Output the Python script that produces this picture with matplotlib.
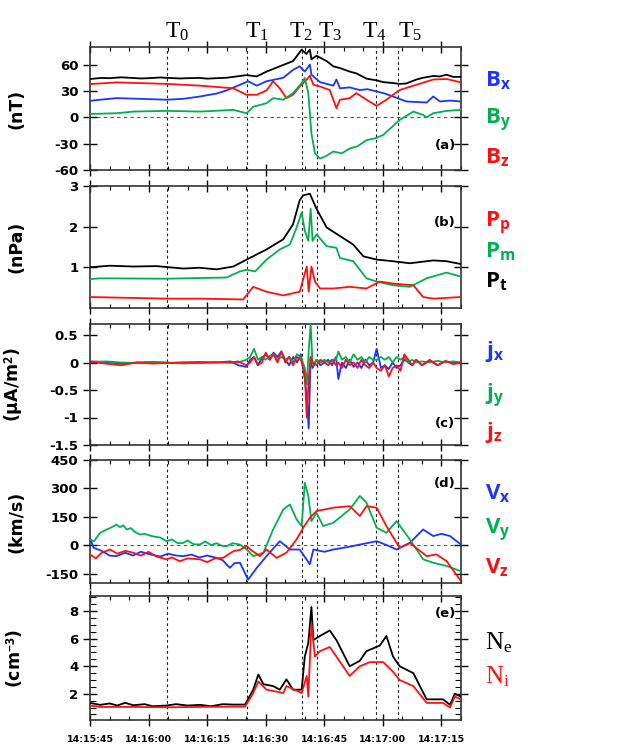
import matplotlib
matplotlib.use("Agg")
import matplotlib.pyplot as plt
from matplotlib.ticker import MultipleLocator, FixedLocator
from matplotlib.font_manager import FontProperties

plt.rcParams['mathtext.fontset'] = 'custom'
plt.rcParams['mathtext.rm'] = 'Liberation Serif'
plt.rcParams['mathtext.bf'] = 'Open Sans:bold'
plt.rcParams['mathtext.it'] = 'Liberation Serif'
plt.rcParams['axes.unicode_minus'] = False

# ---------------- data (time in seconds after 14:15:45) ----------------
event_times = [19.7, 40.1, 54.3, 58.2, 73.3, 78.8]
event_labels = ["0", "1", "2", "3", "4", "5"]

# panel (a) magnetic field, nT
t_bt = [0, 3, 5, 8, 10, 13, 15, 18, 20, 23, 25, 28, 30, 33, 35, 38.4, 40.1, 42.7, 45.2, 48.6, 52.0, 54.2, 55.4, 56.3,
        56.7, 58.0, 60.6, 62.3, 64.0, 66.5, 68.2, 70.8, 73.4, 75.1, 77.6, 79.3, 81.0, 83.6, 85.3, 87.9, 89.6,
        91.3, 93.0, 95.0]
b_t = [43.6, 44.8, 44.5, 45.5, 45, 44.2, 44.5, 45.3, 44.8, 44.2, 44.5, 44.8, 44, 44.6, 45, 47, 48, 46.5, 52, 58,
       64, 77, 72, 77, 66, 70, 64, 58, 56, 52, 50, 44, 42, 40, 39, 38, 38.5, 43, 45, 47, 46.5, 48.5, 46, 46]
t_bx = [0, 2.6, 6.8, 12.8, 19.6, 23.9, 28.2, 32.4, 35.0, 38.4, 40.5, 42.7, 45.2, 49.5, 52.0, 53.7, 55.0, 56.3,
        56.7, 58.9, 62.3, 63.1, 64.0, 66.5, 69.1, 71, 73.4, 75.5, 77.6, 81.0, 86.2, 87.9, 89.6, 92.2, 95.0]
b_x = [18.7, 20, 21.8, 21, 20, 21, 23.7, 27, 30.6, 37, 41, 36, 41, 45, 54, 58, 52, 60,
       48.5, 40, 36, 43, 33, 34, 31, 32, 29.4, 27, 23.7, 18, 16.8, 23.7, 18, 19, 18]
t_by = [0, 6.8, 11.1, 19.6, 28.2, 36.7, 40.1, 41.8, 45.2, 46.9, 49.5, 52.0, 54.2, 55.0, 55.9, 56.7, 57.6, 58.9,
        60.5, 62.3, 64.5, 66.5, 68.5, 70.8, 73, 75.1, 79.3, 82.8, 85.3, 86.2, 87.9, 91.3, 95.0]
b_y = [3.8, 4.6, 6.5, 7.3, 6.5, 8.4, 4.6, 12, 16, 21.8, 20, 27.5, 39, 44.7, 27.5, -18.3, -41, -47,
       -44, -39, -41, -35.5, -33, -26, -24, -20, -3, 6.5, 2.7, 0, 4.6, 7.3, 8.4]
t_bz = [0, 6.8, 19.6, 28.2, 36.7, 40.1, 42.7, 45.2, 46.9, 48.6, 50.3, 52.0, 53.7, 55.5, 56.3, 57.2, 58.9, 61.4,
        62.3, 63.1, 64.0, 66.5, 68.2, 70.8, 73.4, 75.9, 79.3, 83.6, 87.9, 91.3, 95.0]
b_z = [37.8, 39.7, 38, 36, 33, 25.6, 25.6, 30.6, 41, 33, 21.8, 25.6, 35, 43, 47.4, 37, 35, 31,
       20, 10.3, 20, 21.8, 27.5, 20, 13, 20, 31, 37, 43, 43.6, 39.7]

# panel (b) pressures, nPa
t_pt = [0, 5, 11.1, 17, 23.9, 28, 32.4, 36.7, 40.1, 45.2, 49.5, 52.0, 53.7, 54.6, 56.3, 58.0, 60.6, 64.0, 67.4,
        70.0, 73.4, 77.6, 81.9, 87.9, 91.3, 95.0]
p_t = [1.0, 1.04, 1.02, 1.03, 0.97, 0.99, 0.95, 1.02, 1.19, 1.44, 1.69, 2.06, 2.65, 2.77, 2.81, 2.44, 1.98,
       1.77, 1.56, 1.27, 1.19, 1.15, 1.1, 1.17, 1.15, 1.08]
t_pm = [0, 2.6, 19.6, 35.0, 38.4, 40.1, 42.3, 45.2, 48.6, 51.2, 52.9, 54.2, 55.0, 55.9, 56.5, 57.0, 58.0,
        60.6, 63.1, 64.0, 67.4, 69.1, 70.8, 73.4, 77.6, 81.9, 86.2, 91.3, 95.0]
p_m = [0.71, 0.73, 0.72, 0.75, 0.9, 0.94, 0.9, 1.19, 1.44, 1.56, 1.98, 2.35, 1.9, 1.65, 2.44, 1.65, 1.81,
       1.52, 1.48, 1.23, 1.15, 0.94, 0.73, 0.65, 0.56, 0.52, 0.73, 0.87, 0.77]
t_pp = [0, 19.6, 28.2, 39.2, 41.8, 45.2, 49.5, 53.7, 55.5, 56.0, 56.7, 57.6, 58.9, 62.3, 66.5, 70.8, 74.2,
        77.6, 82.8, 85.3, 87.9, 95.0]
p_p = [0.27, 0.23, 0.23, 0.21, 0.52, 0.4, 0.31, 0.4, 1.02, 0.4, 1.02, 0.65, 0.48, 0.48, 0.52, 0.48, 0.65,
       0.6, 0.56, 0.27, 0.23, 0.27]

# panel (c) current density, uA/m^2
t_j = [0, 4, 8, 12, 16, 20, 24, 28, 32, 36,
       38, 40,
       41, 42, 43, 44, 45, 46, 47, 48, 49, 50, 51, 52, 53, 54,
       55, 55.5, 56, 56.5, 57,
       58, 59, 60, 61, 62, 63,
       63.6,
       64.5, 65.5, 66.5, 67.5, 68.5, 69.5, 70.5, 71.5, 72.5,
       73.4,
       74.5, 75.5, 76.5, 77.5, 78.5, 79.5, 80.5, 81.5, 82.5, 83.5,
       85, 87, 89, 91, 93, 95]
j_x = [0.02, 0.01, -0.02, 0.0, 0.01, -0.01, 0.0, 0.01, 0.0, 0.02,
       -0.05, -0.08,
       0.05, 0.1, -0.05, 0.08, 0.15, 0.05, 0.18, 0.1, 0.2, 0.05, -0.05, 0.1, 0.0, 0.15,
       -0.3, -0.6, -1.2, 0.1, -0.1,
       0.05, -0.05, 0.0, 0.05, -0.05, 0.1,
       -0.3,
       0.0, -0.1, 0.05, -0.08, 0.0, -0.1, 0.05, -0.05, 0.0,
       0.25,
       -0.1, -0.05, -0.12, 0.0, -0.1, -0.05, 0.05, 0.0, -0.05, 0.05,
       -0.05, 0.03, -0.05, 0.02, 0.0, 0.0]
j_y = [0.0, 0.02, 0.0, -0.01, 0.01, 0.0, -0.02, 0.0, 0.01, 0.0,
       0.0, 0.05,
       0.1, 0.25, 0.05, 0.1, 0.05, 0.12, 0.15, 0.05, 0.1, 0.05, 0.1, 0.0, 0.15, 0.1,
       -0.1, -0.4, 0.2, 0.7, -0.05,
       0.05, 0.0, 0.05, 0.0, 0.05, 0.05,
       0.2,
       0.05, 0.1, 0.0, 0.15, 0.05, 0.1, 0.0, 0.1, 0.05,
       0.05,
       0.1, 0.05, 0.1, 0.0, 0.1, 0.05, 0.1, 0.0, 0.05, 0.0,
       0.02, 0.0, 0.03, 0.0, 0.02, 0.0]
j_z = [0.01, -0.02, -0.05, 0.0, -0.02, -0.01, 0.0, -0.01, 0.0, 0.0,
       0.02, -0.05,
       0.0, 0.1, -0.05, 0.0, 0.18, 0.05, 0.15, 0.0, 0.2, 0.0, 0.1, -0.05, 0.1, 0.05,
       -0.2, -1.0, -0.3, 0.1, 0.0,
       -0.05, 0.05, 0.0, -0.05, 0.05, -0.05,
       0.0,
       -0.1, 0.05, -0.05, 0.0, -0.1, 0.05, -0.05, -0.1, 0.0,
       -0.1,
       -0.15, -0.05, -0.25, -0.1, -0.05, -0.15, 0.15, 0.05, -0.05, 0.05,
       -0.05, 0.05, -0.05, 0.03, -0.03, 0.0]

# panel (d) velocity, km/s
t_vx = [0, 0.9, 3, 5, 6.8, 9, 11, 13, 15.4, 18, 20, 22, 23.9, 26, 28, 30, 32.4, 34, 35.8, 37, 38.4, 40.5,
        42.7, 45.2, 48.6, 51.2, 53.7, 56.3, 57.2, 60, 62.3, 66, 69.1, 73.4, 76, 78.5, 81.9, 85.3, 87.9,
        90, 92.2, 95.0]
v_x = [39, -14, -30, -55, -58, -40, -55, -35, -49, -60, -45, -55, -58, -50, -65, -55, -67, -80, -120, -95,
       -93, -182, -120, -58, 21, -23, -23, -101, -23, -35, -23, -10, 3, 21, 0, -23, 12, 83, 48, 60, 48, 3]
t_vy = [0, 1, 2.6, 4, 5.1, 6, 6.8, 7.7, 8.5, 9.4, 10.5, 11.5, 12.8, 14, 15.4, 16.5, 18, 19.6, 21, 22.5,
        23.9, 25, 26.5, 28.2, 29.5, 31, 32.4, 34, 35.0, 36.5, 38.4, 40, 41.8, 44.4, 46.9, 49.5, 51.2,
        52.9, 54.2, 55.0, 55.9, 56.7, 58.0, 59.7, 62.3, 66.5, 69.1, 70.8, 73.4, 75.9, 78.5, 81.9, 85.3,
        87.9, 91.3, 95.0]
v_y = [30, 20, 65, 80, 90, 100, 109, 95, 105, 83, 90, 70, 56, 60, 50, 45, 40, 21, 30, 10,
       12, 25, 5, 3.5, 20, 0, 10, -5, -5, 10, 3, -20, -58, -40, 83, 189, 215,
       136, 101, 330, 260, 127, 171, 101, 118, 189, 260, 224, 92, 65, 127, 30, -75,
       -93, -110, -138]
t_vz = [0, 1.5, 3, 5.1, 7, 9, 11.1, 13, 15, 17, 19.6, 21, 23, 25, 28.2, 30, 32, 34.1, 36.7, 38.4, 40.1,
        41.5, 43.5, 45.2, 47.8, 50.3, 52.9, 54.6, 56.3, 58.0, 62.3, 66.5, 69.1, 70.8, 73.4, 75.9, 78.5,
        79.3, 81.9, 86.2, 88.7, 91.3, 95.0]
v_z = [-49, -70, -40, -23, -45, -30, -40, -55, -35, -60, -75, -65, -85, -70, -75, -90, -70, -67, -32,
       -25, -5, -30, -58, -23, -67, -40, 30, 92, 145, 180, 198, 206, 154, 206, 198, 101, 12,
       -14, 12, -58, -49, -84, -190]

# panel (e) density, cm^-3
t_ne = [0, 2.6, 5, 7, 9, 11.1, 14, 16, 19.6, 22, 25, 28.2, 31, 34, 36.7, 39.7, 41.8, 43.1, 44.4, 46.9, 48.6,
        50.3, 52.0, 54.2, 55.0, 55.9, 56.7, 57.2, 58.9, 61.4, 63.1, 66.5, 69.1, 70.8, 74.2, 75.9, 77.6,
        79.3, 82.8, 86.2, 90.4, 92.2, 93.4, 95.0]
n_e = [1.34, 1.2, 1.3, 1.15, 1.35, 1.17, 1.25, 1.1, 1.15, 1.25, 1.15, 1.2, 1.1, 1.25, 1.22, 1.22, 2.3,
       3.4, 2.7, 2.56, 2.3, 3.05, 2.3, 2.3, 4.7, 5.7, 8.3, 5.9, 6.2, 6.6, 5.9, 4.0, 4.4, 5.1, 5.5,
       6.2, 4.7, 4.0, 3.5, 1.6, 1.6, 1.2, 2.0, 1.8]
t_ni = [0, 2.6, 11.1, 19.6, 28.2, 36.7, 39.7, 41.8, 43.1, 45.2, 49.5, 50.3, 54.2, 55.5, 55.9, 56.7, 57.6,
        58.9, 61.4, 63.1, 66.5, 69.1, 71.7, 75.1, 77.6, 79.3, 82.8, 86.2, 90.4, 92.2, 93.4, 95.0]
n_i = [1.15, 1.05, 1.05, 1.02, 1.05, 1.07, 1.07, 2.06, 2.9, 2.3, 2.06, 2.56, 2.06, 3.3, 1.8, 7.1, 4.7,
       5.1, 5.4, 4.7, 3.3, 4.0, 4.3, 4.3, 3.6, 3.0, 2.56, 1.34, 1.34, 1.0, 1.8, 1.6]

x_tick_labels = ["14:15:45", "14:16:00", "14:16:15", "14:16:30", "14:16:45", "14:17:00", "14:17:15"]

# ---------------- styling ----------------
BLUE = "#1a35ff"
GREEN = "#00b050"
RED = "#ff1010"
BLACK = "#000000"
LW = 1.3

W, H = 629, 752
fig = plt.figure(figsize=(W / 100, H / 100), dpi=100)

def frac_rect(top, bottom, left=90, right=461):
    return [left / W, 1 - bottom / H, (right - left) / W, (bottom - top) / H]

rects = [frac_rect(47, 170), frac_rect(186, 308), frac_rect(324, 445), frac_rect(460, 583), frac_rect(596, 720)]
axes = [fig.add_axes(r) for r in rects]

tick_fp = FontProperties(family="DejaVu Sans", weight="bold", size=9.5)

def style_axis(ax, yticks, ylim, ylabel, panel, py, show_x=False, yminor=None, yticklabels=None):
    ax.set_xlim(0, 95)
    ax.set_ylim(*ylim)
    ax.xaxis.set_major_locator(MultipleLocator(15))
    ax.xaxis.set_minor_locator(MultipleLocator(5))
    ax.yaxis.set_major_locator(FixedLocator(yticks))
    if yticklabels is not None:
        ax.set_yticklabels(yticklabels)
    if yminor is not None:
        ax.yaxis.set_minor_locator(MultipleLocator(yminor))
    ax.tick_params(axis='x', which='major', direction='inout', length=8, width=1.0, top=True, bottom=True)
    ax.tick_params(axis='x', which='minor', direction='in', length=3, width=0.8, top=True, bottom=True)
    ax.tick_params(axis='y', which='major', direction='inout', length=10, width=1.0, left=True, right=True)
    ax.tick_params(axis='y', which='minor', direction='in', length=4, width=0.8, left=True, right=True)
    for sp in ax.spines.values():
        sp.set_linewidth(1.2)
        sp.set_color("#333333")
    for lab in ax.get_yticklabels():
        lab.set_fontproperties(tick_fp)
    if show_x:
        ax.set_xticks([0, 15, 30, 45, 60, 75, 90])
        ax.set_xticklabels(x_tick_labels, fontsize=6.8, fontweight='bold', family="DejaVu Sans")
        ax.tick_params(axis='x', which='major', pad=7)
    else:
        ax.set_xticklabels([])
    ax.set_ylabel(ylabel, fontsize=12.5, fontweight='bold', family="DejaVu Sans")
    ax.yaxis.set_label_coords(-0.175, 0.5)
    ax.text(0.957, py, panel, transform=ax.transAxes, ha='center', va='center',
            fontsize=9.5, fontweight='bold', family="DejaVu Sans")
    for te in event_times:
        ax.axvline(te, color="#222222", lw=0.8, ls=(0, (2.5, 2.5)), zorder=1)

axa, axb, axc, axd, axe = axes

# (a)
axa.axhline(0, color="#555555", lw=0.8, ls=(0, (3, 3)), zorder=1)
axa.plot(t_bt, b_t, color=BLACK, lw=LW, zorder=3)
axa.plot(t_bx, b_x, color=BLUE, lw=LW, zorder=3)
axa.plot(t_bz, b_z, color=RED, lw=LW, zorder=3)
axa.plot(t_by, b_y, color=GREEN, lw=LW, zorder=4)
style_axis(axa, [-60, -30, 0, 30, 60], (-60, 80), "(nT)", "(a)", 0.2)

# (b)
axb.plot(t_pt, p_t, color=BLACK, lw=LW, zorder=3)
axb.plot(t_pm, p_m, color=GREEN, lw=LW, zorder=3)
axb.plot(t_pp, p_p, color=RED, lw=LW, zorder=4)
style_axis(axb, [1, 2, 3], (0, 3), "(nPa)", "(b)", 0.70)

# (c)
axc.plot(t_j, j_x, color=BLUE, lw=LW, zorder=3)
axc.plot(t_j, j_y, color=GREEN, lw=LW, zorder=3)
axc.plot(t_j, j_z, color=RED, lw=LW, zorder=4)
style_axis(axc, [-1.5, -1, -0.5, 0, 0.5], (-1.5, 0.7), r"(μA/m$^\mathbf{2}$)", "(c)", 0.18,
           yticklabels=["-1.5", "-1", "-0.5", "0", "0.5"])

# (d)
axd.axhline(0, color="#555555", lw=0.8, ls=(0, (3, 3)), zorder=1)
axd.plot(t_vx, v_x, color=BLUE, lw=LW, zorder=3)
axd.plot(t_vy, v_y, color=GREEN, lw=LW, zorder=3)
axd.plot(t_vz, v_z, color=RED, lw=LW, zorder=4)
style_axis(axd, [-150, 0, 150, 300, 450], (-200, 450), "(km/s)", "(d)", 0.81)

# (e)
axe.plot(t_ne, n_e, color=BLACK, lw=LW, zorder=3)
axe.plot(t_ni, n_i, color=RED, lw=LW, zorder=4)
style_axis(axe, [2, 4, 6, 8], (0.1, 9.1), r"(cm$^\mathbf{-3}$)", "(e)", 0.86, show_x=True, yminor=0.5)

# event labels at top (label x positions in pixels, placed by hand as in the original)
label_px = [165, 245, 289, 318, 362, 398]
for xp, lab in zip(label_px, event_labels):
    fig.text(xp / W, 1 - 38 / H, r"$\mathrm{T}_{" + lab + "}$", fontsize=17, ha='left', va='baseline')

# right-side component labels
def side_label(ypix, txt, color, size=16):
    fig.text(485 / W, 1 - ypix / H, txt, color=color, fontsize=size, ha='left', va='center')

side_label(80, r"$\mathbf{B}_\mathbf{x}$", BLUE)
side_label(120, r"$\mathbf{B}_\mathbf{y}$", GREEN)
side_label(157, r"$\mathbf{B}_\mathbf{z}$", RED)
side_label(223, r"$\mathbf{P}_\mathbf{p}$", RED)
side_label(251, r"$\mathbf{P}_\mathbf{m}$", GREEN)
side_label(281, r"$\mathbf{P}_\mathbf{t}$", BLACK)
side_label(352, r"$\mathbf{j}_\mathbf{x}$", BLUE)
side_label(395, r"$\mathbf{j}_\mathbf{y}$", GREEN)
side_label(432, r"$\mathbf{j}_\mathbf{z}$", RED)
side_label(493, r"$\mathbf{V}_\mathbf{x}$", BLUE)
side_label(530, r"$\mathbf{V}_\mathbf{y}$", GREEN)
side_label(567, r"$\mathbf{V}_\mathbf{z}$", RED)
side_label(643, r"$\mathrm{N}_\mathrm{e}$", BLACK, 18)
side_label(677, r"$\mathrm{N}_\mathrm{i}$", RED, 18)

fig.savefig("out.png", dpi=100)
